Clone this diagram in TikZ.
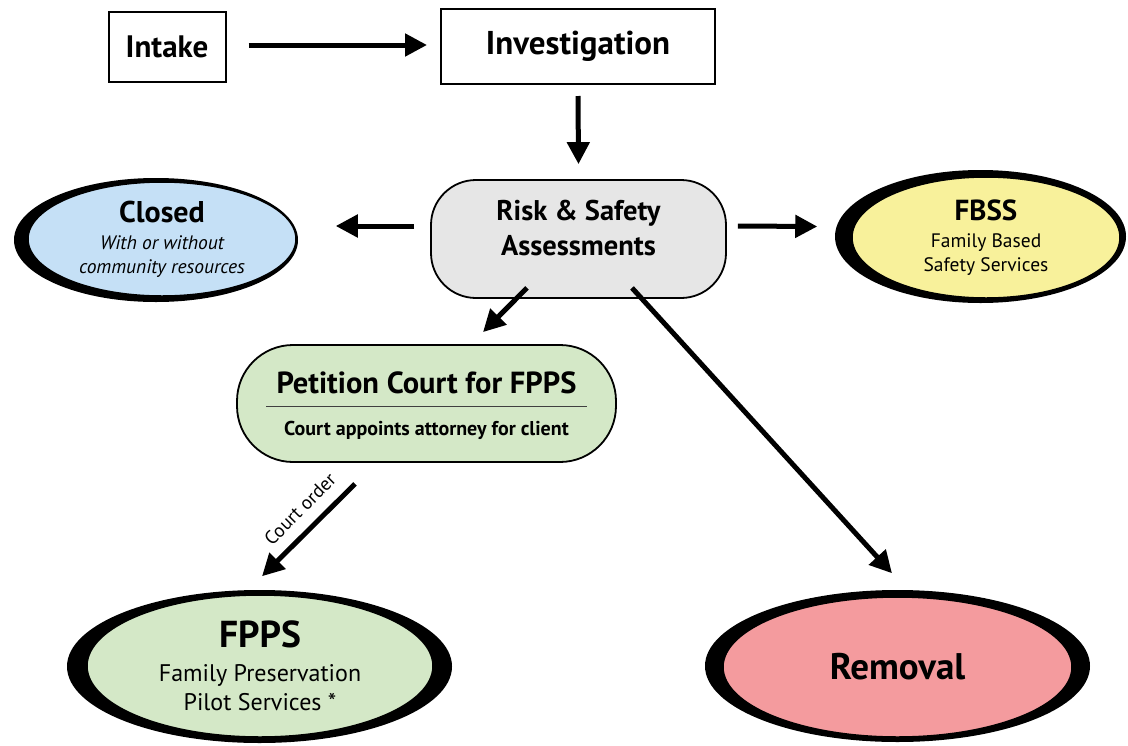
\documentclass[tikz,border=0pt]{standalone}
\usepackage{fontspec}
\setmainfont{PT Sans}
\usetikzlibrary{arrows.meta,shapes.geometric,calc}
\definecolor{cblue}{RGB}{197,224,246}
\definecolor{cyellow}{RGB}{248,241,155}
\definecolor{cgreen}{RGB}{212,232,199}
\definecolor{cpink}{RGB}{244,155,158}
\definecolor{cgray}{RGB}{230,230,230}
\begin{document}
\begin{tikzpicture}[x=1pt,y=-1pt,
  box/.style={draw, line width=2pt, inner sep=0pt},
  pill/.style={draw, line width=1.8pt, inner sep=0pt, align=center},
  oval/.style={ellipse, draw, line width=1.5pt, inner sep=0pt, align=center},
  backing/.style={ellipse, fill=black, inner sep=0pt},
  label/.style={inner sep=0pt, align=center},
  arr/.style={line width=5pt, -{Triangle[length=22pt,width=22pt]}},
]
\useasboundingbox[fill=white] (0,0) rectangle (1128,745);

% boxes
\node[box, minimum width=117, minimum height=70, font=\bfseries\fontsize{31}{36}\selectfont] (intake) at (167,47) {Intake};
\node[box, minimum width=274, minimum height=75, font=\bfseries\fontsize{33}{38}\selectfont] (invest) at (578,46.5) {Investigation};
\node[pill, fill=cgray, rounded corners=45pt, minimum width=295, minimum height=118] (risk) at (578.5,239) {};
\node[label, font=\bfseries\fontsize{28.5}{35}\selectfont] (risktext) at ([shift={(0,-11)}]risk.center) {Risk \& Safety\\Assessments};

% petition
\node[pill, fill=cgreen, rounded corners=56pt, minimum width=379, minimum height=117] (petition) at (426.5,403.5) {};
\node[label, font=\bfseries\fontsize{30.5}{34}\selectfont] (ptitle) at ([shift={(0,-21)}]petition.center) {Petition Court for FPPS};
\node[label, font=\bfseries\fontsize{20}{24}\selectfont] (psub) at ([shift={(0,27)}]petition.center) {Court appoints attorney for client};
\draw[line width=1.2pt, black!75] ([shift={(30,3)}]petition.west) -- ([shift={(-30,3)}]petition.east);

% ellipses
\node[backing, minimum width=284, minimum height=124] (closedbg) at (156,240) {};
\node[oval, fill=cblue, minimum width=268, minimum height=114, font=\fontsize{19.5}{24}\selectfont] (closed) at (162,239)
  {{\bfseries\fontsize{30}{30}\selectfont Closed}\\[3pt]{\itshape With or without}\\{\itshape community resources}};

\node[backing, minimum width=291, minimum height=133] (fbssbg) at (980.5,236.5) {};
\node[oval, fill=cyellow, minimum width=268, minimum height=121, font=\fontsize{19.5}{24}\selectfont] (fbss) at (986,237.5)
  {{\bfseries\fontsize{29}{29}\selectfont FBSS}\\[3pt]Family Based\\Safety Services};

\node[backing, minimum width=385, minimum height=153] (fppsbg) at (259.5,666.5) {};
\node[oval, fill=cgreen, minimum width=346, minimum height=142, font=\fontsize{24}{29}\selectfont] (fpps) at (260,666)
  {{\bfseries\fontsize{37.5}{37.5}\selectfont FPPS}\\[5pt]Family Preservation\\Pilot Services *};

\node[backing, minimum width=385, minimum height=152] (removalbg) at (897.5,666) {};
\node[oval, fill=cpink, minimum width=349, minimum height=140, font=\bfseries\fontsize{37}{42}\selectfont] (removal) at (897.5,667) {Removal};

% arrows
\draw[arr] ([shift={(22,-2)}]intake.east) -- ([shift={(-13,-1.5)}]invest.west);
\draw[arr] ([shift={(0,11)}]invest.south) -- ([shift={(0,-15)}]risk.north);
\draw[arr] ([shift={(-16,-13)}]risk.west) -- ([shift={(39,-13)}]closed.east);
\draw[arr] ([shift={(11,-13)}]risk.east) -- ([shift={(-34,-11)}]fbss.west);
\draw[arr] ([shift={(-51.5,-11)}]risk.south) -- ([shift={(56.5,-12)}]petition.north);
\draw[arr] ([shift={(53.5,-11)}]risk.south) -- ([shift={(-5.5,-23)}]removal.north);
\draw[arr] ([shift={(-71.5,21)}]petition.south) -- ([shift={(2,-18)}]fpps.north);
\node[label, rotate=45, font=\fontsize{19}{22}\selectfont] (courtorder) at (300,509) {Court order};
\end{tikzpicture}
\end{document}
